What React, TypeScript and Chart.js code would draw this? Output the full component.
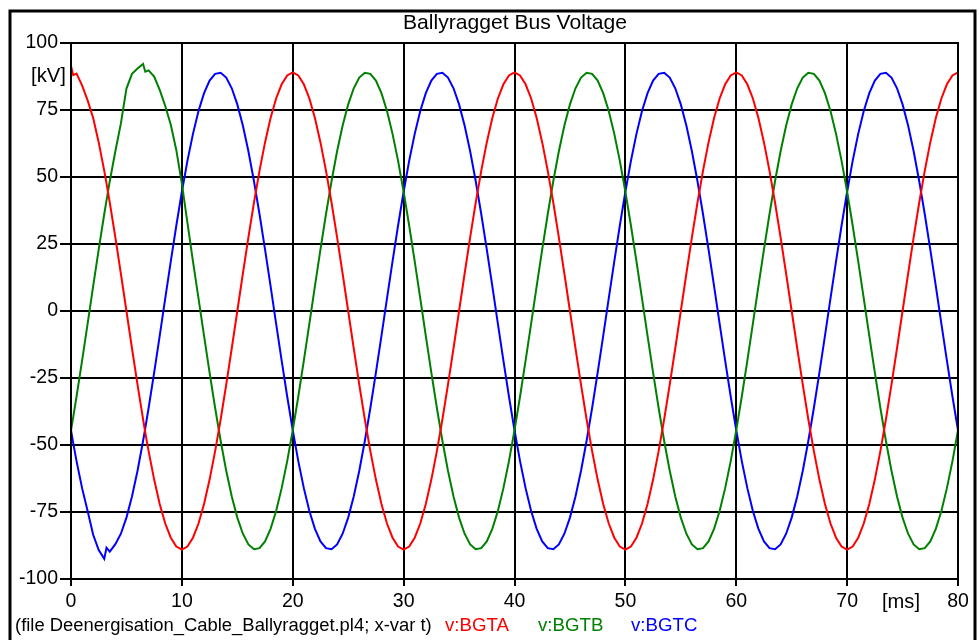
import React, { useEffect, useRef } from "react";
import { Chart, registerables } from "chart.js";

Chart.register(...registerables);

const FONT = "'Liberation Sans', Arial, Helvetica, sans-serif";

const chartTitle = "Ballyragget Bus Voltage";
const fileCaption = "(file Deenergisation_Cable_Ballyragget.pl4; x-var t)";
const seriesNames = ["v:BGTA", "v:BGTB", "v:BGTC"];
const seriesColors = ["#ff0000", "#008000", "#0000ff"];
const yUnit = "[kV]";
const xUnit = "[ms]";
const xTicks = [0, 10, 20, 30, 40, 50, 60, 70, 80];
const yTicks = [-100, -75, -50, -25, 0, 25, 50, 75, 100];

const timeMs = [
  0, 0.2, 0.5, 1, 1.5, 2, 2.5, 3, 3.2, 3.5,
  4, 4.5, 5, 5.5, 6, 6.5, 6.7, 7, 7.5, 8, 8.5, 9, 9.5,
  10, 10.5, 11, 11.5, 12, 12.5, 13, 13.5, 14, 14.5,
  15, 15.5, 16, 16.5, 17, 17.5, 18, 18.5, 19, 19.5,
  20, 20.5, 21, 21.5, 22, 22.5, 23, 23.5, 24, 24.5,
  25, 25.5, 26, 26.5, 27, 27.5, 28, 28.5, 29, 29.5,
  30, 30.5, 31, 31.5, 32, 32.5, 33, 33.5, 34, 34.5,
  35, 35.5, 36, 36.5, 37, 37.5, 38, 38.5, 39, 39.5,
  40, 40.5, 41, 41.5, 42, 42.5, 43, 43.5, 44, 44.5,
  45, 45.5, 46, 46.5, 47, 47.5, 48, 48.5, 49, 49.5,
  50, 50.5, 51, 51.5, 52, 52.5, 53, 53.5, 54, 54.5,
  55, 55.5, 56, 56.5, 57, 57.5, 58, 58.5, 59, 59.5,
  60, 60.5, 61, 61.5, 62, 62.5, 63, 63.5, 64, 64.5,
  65, 65.5, 66, 66.5, 67, 67.5, 68, 68.5, 69, 69.5,
  70, 70.5, 71, 71.5, 72, 72.5, 73, 73.5, 74, 74.5,
  75, 75.5, 76, 76.5, 77, 77.5, 78, 78.5, 79, 79.5,
  80,
];

const bgtaKV = [
  91.4, 88.0, 88.6, 84.2, 78.6, 72.0, 62.9, 52.3, 47.7, 40.4,
  27.5, 13.9, 0.0, -13.9, -27.5, -40.4, -45.4, -52.3, -62.9, -72.0, -79.3, -84.6, -87.9,
  -89.0, -87.9, -84.6, -79.3, -72.0, -62.9, -52.3, -40.4, -27.5, -13.9,
  0.0, 13.9, 27.5, 40.4, 52.3, 62.9, 72.0, 79.3, 84.6, 87.9,
  89.0, 87.9, 84.6, 79.3, 72.0, 62.9, 52.3, 40.4, 27.5, 13.9,
  0.0, -13.9, -27.5, -40.4, -52.3, -62.9, -72.0, -79.3, -84.6, -87.9,
  -89.0, -87.9, -84.6, -79.3, -72.0, -62.9, -52.3, -40.4, -27.5, -13.9,
  0.0, 13.9, 27.5, 40.4, 52.3, 62.9, 72.0, 79.3, 84.6, 87.9,
  89.0, 87.9, 84.6, 79.3, 72.0, 62.9, 52.3, 40.4, 27.5, 13.9,
  0.0, -13.9, -27.5, -40.4, -52.3, -62.9, -72.0, -79.3, -84.6, -87.9,
  -89.0, -87.9, -84.6, -79.3, -72.0, -62.9, -52.3, -40.4, -27.5, -13.9,
  0.0, 13.9, 27.5, 40.4, 52.3, 62.9, 72.0, 79.3, 84.6, 87.9,
  89.0, 87.9, 84.6, 79.3, 72.0, 62.9, 52.3, 40.4, 27.5, 13.9,
  0.0, -13.9, -27.5, -40.4, -52.3, -62.9, -72.0, -79.3, -84.6, -87.9,
  -89.0, -87.9, -84.6, -79.3, -72.0, -62.9, -52.3, -40.4, -27.5, -13.9,
  0.0, 13.9, 27.5, 40.4, 52.3, 62.9, 72.0, 79.3, 84.6, 87.9,
  89.0,
];

const bgtbKV = [
  -44.5, -39.6, -31.9, -18.5, -4.7, 9.3, 23.0, 36.2, 41.2, 48.5,
  59.6, 70.0, 83.0, 88.5, 90.5, 92.2, 89.3, 89.8, 87.5, 82.5, 76.5, 69.5, 60.0,
  47.5, 33.0, 18.5, 4.7, -9.3, -23.0, -36.2, -48.5, -59.6, -69.2,
  -77.1, -83.1, -87.1, -88.9, -88.5, -86.0, -81.3, -74.6, -66.1, -56.0,
  -44.5, -31.9, -18.5, -4.7, 9.3, 23.0, 36.2, 48.5, 59.6, 69.2,
  77.1, 83.1, 87.1, 88.9, 88.5, 86.0, 81.3, 74.6, 66.1, 56.0,
  44.5, 31.9, 18.5, 4.7, -9.3, -23.0, -36.2, -48.5, -59.6, -69.2,
  -77.1, -83.1, -87.1, -88.9, -88.5, -86.0, -81.3, -74.6, -66.1, -56.0,
  -44.5, -31.9, -18.5, -4.7, 9.3, 23.0, 36.2, 48.5, 59.6, 69.2,
  77.1, 83.1, 87.1, 88.9, 88.5, 86.0, 81.3, 74.6, 66.1, 56.0,
  44.5, 31.9, 18.5, 4.7, -9.3, -23.0, -36.2, -48.5, -59.6, -69.2,
  -77.1, -83.1, -87.1, -88.9, -88.5, -86.0, -81.3, -74.6, -66.1, -56.0,
  -44.5, -31.9, -18.5, -4.7, 9.3, 23.0, 36.2, 48.5, 59.6, 69.2,
  77.1, 83.1, 87.1, 88.9, 88.5, 86.0, 81.3, 74.6, 66.1, 56.0,
  44.5, 31.9, 18.5, 4.7, -9.3, -23.0, -36.2, -48.5, -59.6, -69.2,
  -77.1, -83.1, -87.1, -88.9, -88.5, -86.0, -81.3, -74.6, -66.1, -56.0,
  -44.5,
];

const bgtcKV = [
  -44.5, -49.3, -56.0, -66.1, -74.6, -83.5, -89.2, -92.5, -88.3, -89.8,
  -87.0, -83.1, -77.1, -69.2, -59.6, -48.5, -43.7, -36.2, -23.0, -9.3, 4.7, 18.5, 31.9,
  44.5, 56.0, 66.1, 74.6, 81.3, 86.0, 88.5, 88.9, 87.1, 83.1,
  77.1, 69.2, 59.6, 48.5, 36.2, 23.0, 9.3, -4.7, -18.5, -31.9,
  -44.5, -56.0, -66.1, -74.6, -81.3, -86.0, -88.5, -88.9, -87.1, -83.1,
  -77.1, -69.2, -59.6, -48.5, -36.2, -23.0, -9.3, 4.7, 18.5, 31.9,
  44.5, 56.0, 66.1, 74.6, 81.3, 86.0, 88.5, 88.9, 87.1, 83.1,
  77.1, 69.2, 59.6, 48.5, 36.2, 23.0, 9.3, -4.7, -18.5, -31.9,
  -44.5, -56.0, -66.1, -74.6, -81.3, -86.0, -88.5, -88.9, -87.1, -83.1,
  -77.1, -69.2, -59.6, -48.5, -36.2, -23.0, -9.3, 4.7, 18.5, 31.9,
  44.5, 56.0, 66.1, 74.6, 81.3, 86.0, 88.5, 88.9, 87.1, 83.1,
  77.1, 69.2, 59.6, 48.5, 36.2, 23.0, 9.3, -4.7, -18.5, -31.9,
  -44.5, -56.0, -66.1, -74.6, -81.3, -86.0, -88.5, -88.9, -87.1, -83.1,
  -77.1, -69.2, -59.6, -48.5, -36.2, -23.0, -9.3, 4.7, 18.5, 31.9,
  44.5, 56.0, 66.1, 74.6, 81.3, 86.0, 88.5, 88.9, 87.1, 83.1,
  77.1, 69.2, 59.6, 48.5, 36.2, 23.0, 9.3, -4.7, -18.5, -31.9,
  -44.5,
];

const seriesValues = [bgtaKV, bgtbKV, bgtcKV];

function fitFont(ctx: CanvasRenderingContext2D, text: string, width: number) {
  ctx.font = `100px ${FONT}`;
  const w = ctx.measureText(text).width;
  const size = (100 * width) / w;
  return `${size.toFixed(2)}px ${FONT}`;
}

const overlayPlugin = {
  id: "overlay",
  afterDraw(chart: any) {
    const ctx: CanvasRenderingContext2D = chart.ctx;
    const a = chart.chartArea;
    ctx.save();
    // plot frame
    ctx.strokeStyle = "#000";
    ctx.lineWidth = 2;
    ctx.strokeRect(a.left, a.top, a.right - a.left, a.bottom - a.top);
    // outer frame
    ctx.lineWidth = 3;
    ctx.strokeRect(10, 11, 965, 700);

    ctx.textBaseline = "middle";
    // title
    ctx.fillStyle = "#000";
    ctx.textAlign = "center";
    ctx.font = fitFont(ctx, chartTitle, 224);
    ctx.fillText(chartTitle, 515, 23);

    // unit labels
    ctx.font = fitFont(ctx, yUnit, 35);
    ctx.textAlign = "right";
    ctx.fillText(yUnit, 66, 76);
    ctx.textAlign = "center";
    ctx.font = fitFont(ctx, xUnit, 38);
    ctx.fillText(xUnit, 901, 602);

    // caption
    ctx.textAlign = "left";
    ctx.font = fitFont(ctx, fileCaption, 417);
    ctx.fillText(fileCaption, 15, 626);
    const legendX = [445, 538, 631];
    ctx.font = fitFont(ctx, seriesNames[0], 64);
    seriesNames.forEach((n, i) => {
      ctx.fillStyle = seriesColors[i];
      ctx.fillText(n, legendX[i], 626);
    });
    ctx.restore();
  },
};

export default function App() {
  const ref = useRef<HTMLCanvasElement | null>(null);
  useEffect(() => {
    document.body.style.margin = "0";
    const canvas = ref.current!;
    const chart = new Chart(canvas, {
      type: "line",
      data: {
        datasets: seriesValues.map((vals, i) => ({
          label: seriesNames[i],
          data: timeMs.map((t, j) => ({ x: t, y: vals[j] })),
          borderColor: seriesColors[i],
          backgroundColor: seriesColors[i],
          borderWidth: 2,
          pointRadius: 0,
          tension: 0,
          fill: false,
        })),
      },
      options: {
        animation: false,
        responsive: false,
        maintainAspectRatio: false,
        devicePixelRatio: 1,
        layout: { padding: { top: 43, right: 21, bottom: 0, left: 0 } },
        plugins: {
          legend: { display: false },
          title: { display: false },
          tooltip: { enabled: false },
        },
        scales: {
          x: {
            type: "linear",
            min: 0,
            max: 80,
            afterBuildTicks: (s: any) => {
              s.ticks = xTicks.map((v) => ({ value: v }));
            },
            afterFit: (s: any) => {
              s.height = 61;
            },
            grid: { color: "#000", lineWidth: 2, tickLength: 7, tickColor: "#000", tickWidth: 2 },
            border: { display: true, color: "#000", width: 2 },
            ticks: {
              font: { family: FONT, size: 19.5 },
              color: "#000",
              padding: 4,
              maxRotation: 0,
              autoSkip: false,
              callback: (v: any) => String(v),
            },
          },
          y: {
            type: "linear",
            min: -100,
            max: 100,
            afterBuildTicks: (s: any) => {
              s.ticks = yTicks.map((v) => ({ value: v }));
            },
            afterFit: (s: any) => {
              s.width = 71;
            },
            grid: { color: "#000", lineWidth: 2, tickLength: 11, tickColor: "#000", tickWidth: 2 },
            border: { display: true, color: "#000", width: 2 },
            ticks: {
              font: { family: FONT, size: 19.5 },
              color: "#000",
              padding: 2,
              autoSkip: false,
              callback: (v: any) => String(v),
            },
          },
        },
      },
      plugins: [overlayPlugin],
    } as any);
    return () => chart.destroy();
  }, []);
  return (
    <div style={{ position: "absolute", left: 0, top: 0, width: 979, height: 640, background: "#fff" }}>
      <canvas ref={ref} width={979} height={640} style={{ display: "block" }} />
    </div>
  );
}
